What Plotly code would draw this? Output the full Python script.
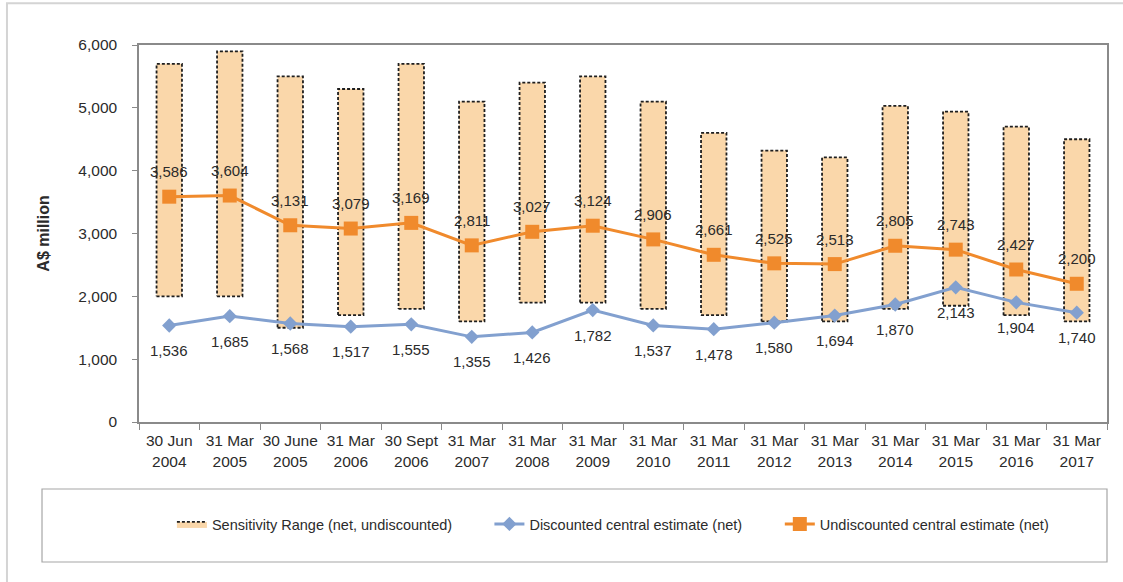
import plotly.graph_objects as go

# Valuation dates (two-line tick labels)
dates = ["30 Jun<br>2004", "31 Mar<br>2005", "30 June<br>2005", "31 Mar<br>2006",
         "30 Sept<br>2006", "31 Mar<br>2007", "31 Mar<br>2008", "31 Mar<br>2009",
         "31 Mar<br>2010", "31 Mar<br>2011", "31 Mar<br>2012", "31 Mar<br>2013",
         "31 Mar<br>2014", "31 Mar<br>2015", "31 Mar<br>2016", "31 Mar<br>2017"]

# Sensitivity range (net, undiscounted), A$ million
range_low = [2000, 2000, 1500, 1700, 1800, 1600, 1900, 1900,
             1800, 1700, 1600, 1600, 1800, 1850, 1700, 1600]
range_high = [5700, 5900, 5500, 5300, 5700, 5100, 5400, 5500,
              5100, 4600, 4320, 4210, 5030, 4940, 4700, 4500]

# Central estimates (net), A$ million
undiscounted = [3586, 3604, 3131, 3079, 3169, 2811, 3027, 3124,
                2906, 2661, 2525, 2513, 2805, 2743, 2427, 2200]
discounted = [1536, 1685, 1568, 1517, 1555, 1355, 1426, 1782,
              1537, 1478, 1580, 1694, 1870, 2143, 1904, 1740]

y_ticks = [0, 1000, 2000, 3000, 4000, 5000, 6000]

FONT = "Liberation Sans, Arial, sans-serif"
TXT = "#2b2b2b"
ORANGE = "#F08A2C"
BLUE = "#82A0CF"
PEACH = "#FAD7AA"

idx = list(range(len(dates)))
half_w = 0.21

# Floating range boxes drawn as closed polygons so the outline can be dashed
bx, by = [], []
for i, lo, hi in zip(idx, range_low, range_high):
    bx += [i - half_w, i + half_w, i + half_w, i - half_w, i - half_w, None]
    by += [lo, lo, hi, hi, lo, None]

fig = go.Figure()
fig.add_trace(go.Scatter(
    x=bx, y=by, mode="lines", fill="toself", fillcolor=PEACH,
    line=dict(color="#1e1e1e", width=1.8, dash="3px,2px"),
    name="Sensitivity Range (net, undiscounted)", legend="legend",
    hoverinfo="skip",
))
fig.add_trace(go.Scatter(
    x=idx, y=discounted, mode="lines+markers",
    line=dict(color=BLUE, width=3),
    marker=dict(symbol="diamond", size=11, color=BLUE),
    name="Discounted central estimate (net)", legend="legend2",
))
fig.add_trace(go.Scatter(
    x=idx, y=undiscounted, mode="lines+markers",
    line=dict(color=ORANGE, width=3),
    marker=dict(symbol="square", size=14, color=ORANGE),
    name="Undiscounted central estimate (net)", legend="legend3",
))

annotations = []
for i, v in zip(idx, undiscounted):
    annotations.append(dict(x=i, y=v, text=f"{v:,}", showarrow=False, yshift=25,
                            font=dict(family=FONT, size=15, color=TXT)))
for i, v in zip(idx, discounted):
    annotations.append(dict(x=i, y=v, text=f"{v:,}", showarrow=False, yshift=-25,
                            font=dict(family=FONT, size=15, color=TXT)))
annotations.append(dict(
    xref="paper", yref="paper", x=-0.099, y=0.5, xanchor="center", yanchor="middle",
    text="<b>A$ million</b>", textangle=-90, showarrow=False,
    font=dict(family=FONT, size=16, color=TXT),
))

shapes = [
    # legend frame
    dict(type="rect", xref="paper", yref="paper", x0=-0.1002, x1=1.0,
         y0=-0.3714, y1=-0.1777, line=dict(color="#a6a6a6", width=1.2),
         fillcolor="rgba(0,0,0,0)", layer="below"),
    # outer chart frame
    dict(type="rect", xref="paper", yref="paper", x0=-0.1364, x1=1.03,
         y0=-0.44, y1=1.111, line=dict(color="#d4d4d4", width=2),
         fillcolor="rgba(0,0,0,0)", layer="below"),
]

legend_common = dict(orientation="h", yanchor="middle", y=-0.2706, xanchor="left",
                     font=dict(family=FONT, size=14.5, color=TXT),
                     bgcolor="rgba(0,0,0,0)", borderwidth=0)

fig.update_layout(
    width=1123, height=582,
    margin=dict(l=139, r=16, t=45, b=160),
    paper_bgcolor="white", plot_bgcolor="white",
    font=dict(family=FONT, size=15, color=TXT),
    showlegend=True,
    legend=dict(legend_common, x=0.034),
    legend2=dict(legend_common, x=0.362),
    legend3=dict(legend_common, x=0.662),
    annotations=annotations,
    shapes=shapes,
    xaxis=dict(
        range=[-0.5, len(dates) - 0.5], tickmode="array", tickvals=idx, ticktext=dates,
        ticks="", showgrid=False, zeroline=False,
        showline=True, linecolor="#8a8a8a", linewidth=1.5, mirror=True,
        tickfont=dict(family=FONT, size=15.5, color=TXT), ticklabelstandoff=4,
        minor=dict(tickmode="array", tickvals=[i - 0.5 for i in range(len(dates) + 1)],
                   ticks="outside", ticklen=6, tickcolor="#8a8a8a", tickwidth=1.2,
                   showgrid=False),
    ),
    yaxis=dict(
        range=[0, 6000], tickmode="array", tickvals=y_ticks, tickformat=",d",
        ticks="outside", ticklen=5, tickcolor="#8a8a8a", showgrid=False, zeroline=False,
        showline=True, linecolor="#8a8a8a", linewidth=1.5, mirror=True,
        tickfont=dict(family=FONT, size=15.5, color=TXT), ticklabelstandoff=12,
    ),
)

fig.write_html("out.html")
